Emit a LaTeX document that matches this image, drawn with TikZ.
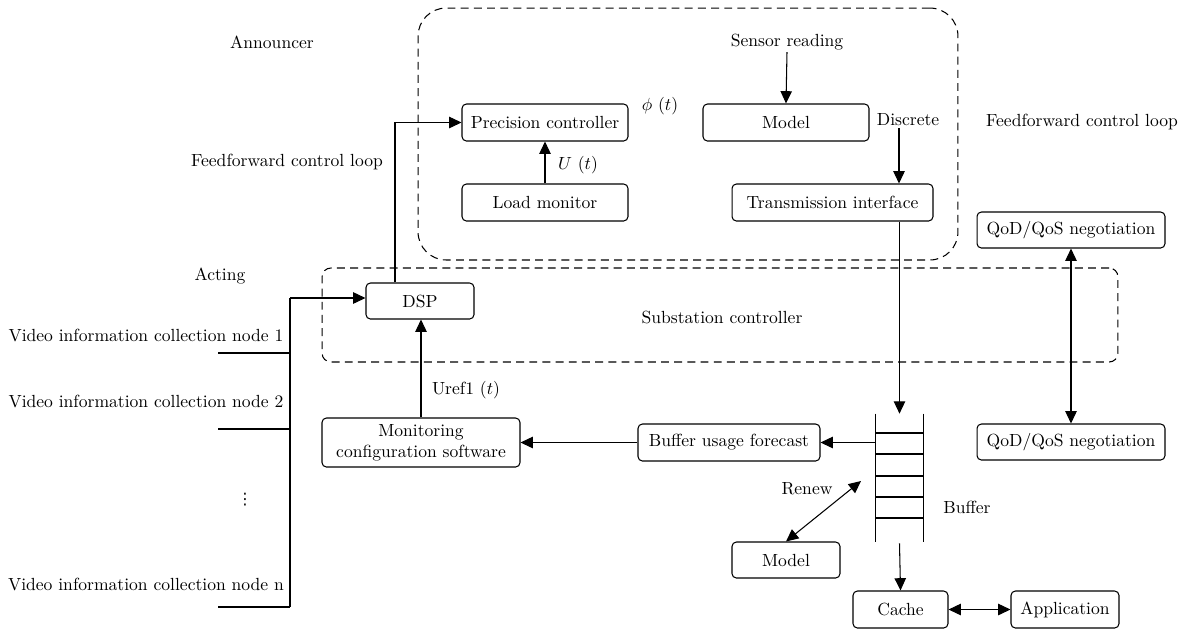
\documentclass[tikz,border=0pt]{standalone}
\usepackage{fontspec}
\newfontfamily\symfont{DejaVu Sans}
\usepackage{amsmath,amssymb}
\usetikzlibrary{positioning, calc, arrows.meta}

\begin{document}
\begin{tikzpicture}[
    x=0.02cm, y=-0.02cm,
    font=\fontsize{10}{12}\selectfont,
    blk/.style={rectangle, draw, line width=0.6pt, rounded corners=2.5pt,
                minimum height=0.74cm, align=center, inner sep=2pt},
    frame/.style={rectangle, draw, line width=0.6pt,
                  dash pattern=on 4.5pt off 3pt, inner sep=0pt},
    lbl/.style={inner sep=1pt, align=center},
    arr/.style={-{Triangle[length=7pt, width=6.5pt]}, line width=0.6pt},
    darr/.style={{Triangle[length=7pt, width=6.5pt]}-{Triangle[length=7pt, width=6.5pt]}, line width=0.6pt},
    wire/.style={line width=0.6pt},
  ]
    \useasboundingbox (0,0) rectangle (1187,633);

    % Dashed frames
    \node[frame, rounded corners=16pt, minimum width=10.8cm, minimum height=5.04cm] (annframe) at (688,134) {};
    \node[frame, rounded corners=5pt, minimum width=15.92cm, minimum height=1.88cm] (subframe) at (720,315) {};

    % Announcer part
    \node[blk, minimum width=3.32cm] (prec) at (545,122.5) {Precision controller};
    \node[blk, minimum width=3.32cm] (load) at (545,202.5) {Load monitor};
    \node[blk, minimum width=3.32cm] (modelT) at (786,122.5) {Model};
    \node[blk, minimum width=4.02cm] (trans) at (832.5,202.5) {Transmission interface};
    \node[lbl] (sensor) at (787,42) {Sensor reading};
    \node[lbl] (discrete) at (908,120) {Discrete};
    \node[lbl] (phi) at (660,106) {$\phi\ (t)$};
    \node[lbl] (ut) at (578,165) {$U\ (t)$};

    % Side labels
    \node[lbl] (announcer) at (272,42) {Announcer};
    \node[lbl] (ffleft) at (287,162) {Feedforward control loop};
    \node[lbl] (acting) at (220,276) {Acting};
    \node[lbl] (ffright) at (1082,122) {Feedforward control loop};
    \node[lbl] (substation) at (722,317) {Substation controller};

    % Substation / lower part
    \node[blk, minimum width=2.16cm, minimum height=0.72cm] (dsp) at (420,301) {DSP};
    \node[blk, minimum width=3.96cm, minimum height=0.98cm, inner sep=1pt] (mon) at (421,442.5)
      {Monitoring\\configuration software};
    \node[blk, minimum width=3.64cm] (fore) at (729,442.5) {Buffer usage forecast};
    \node[blk, minimum width=3.76cm, minimum height=0.72cm] (qosT) at (1071,230) {QoD/QoS negotiation};
    \node[blk, minimum width=3.76cm, minimum height=0.72cm] (qosB) at (1071,442) {QoD/QoS negotiation};
    \node[blk, minimum width=2.16cm, minimum height=0.72cm] (modelB) at (786,560) {Model};
    \node[blk, minimum width=1.9cm] (cache) at (900.5,609.5) {Cache};
    \node[blk, minimum width=2.16cm] (app) at (1065,609.5) {Application};
    \node[lbl] (uref) at (466,390) {Uref1 $(t)$};
    \node[lbl] (renew) at (807,489) {Renew};
    \node[lbl] (bufname) at (967,507) {Buffer};

    % Buffer queue
    \node[minimum width=0.94cm, minimum height=2.56cm, inner sep=0pt] (bufq) at (899.5,478) {};
    \draw[wire] (bufq.north west) -- (bufq.south west);
    \draw[wire] (bufq.north east) -- (bufq.south east);
    \foreach \y in {433,454,476,497,518} {
      \draw[wire] (bufq.west |- 0,\y) -- (bufq.east |- 0,\y);
    }

    % Video information collection nodes
    \node[lbl] (v1) at (146,335) {Video information collection node 1};
    \node[lbl] (v2) at (146,401) {Video information collection node 2};
    \node[lbl, font=\symfont\fontsize{9}{10}\selectfont] (vdots) at (245,500) {⋮};
    \node[lbl] (vn) at (146,584) {Video information collection node n};
    \coordinate (bustop) at (290,298);
    \coordinate (busbot) at (290,607);
    \foreach \i/\y in {1/353,2/429,n/607} {
      \coordinate (tap\i) at (218,\y);
      \draw[wire] (tap\i) -- (tap\i -| bustop);
    }
    \draw[wire] (busbot) -- (bustop);
    \draw[arr] (bustop) -- (bustop -| dsp.west);

    % Connectors
    \draw[arr] ([xshift=-0.5cm]dsp.north) |- (prec.west);
    \draw[arr] (load.north) -- (prec.south);
    \draw[arr] (sensor.south) -- (modelT.north);
    \draw[arr] ([xshift=-0.18cm]discrete.south) -- ([xshift=-0.18cm]discrete.south |- trans.north);
    \draw[arr] (trans.south -| bufq.north) -- (bufq.north);
    \draw[darr] (qosT.south) -- (qosB.north);
    \draw[arr] (mon.north) -- (mon.north |- dsp.south);
    \draw[arr] (fore.west) -- (mon.east);
    \draw[arr] (bufq.west |- fore.east) -- (fore.east);
    \coordinate (renewpt) at (861,481);
    \draw[darr] (modelB.north) -- (renewpt);
    \draw[arr] ([yshift=-0.02cm]bufq.south) -- (cache.north);
    \draw[darr] (cache.east) -- (app.west);
\end{tikzpicture}
\end{document}
